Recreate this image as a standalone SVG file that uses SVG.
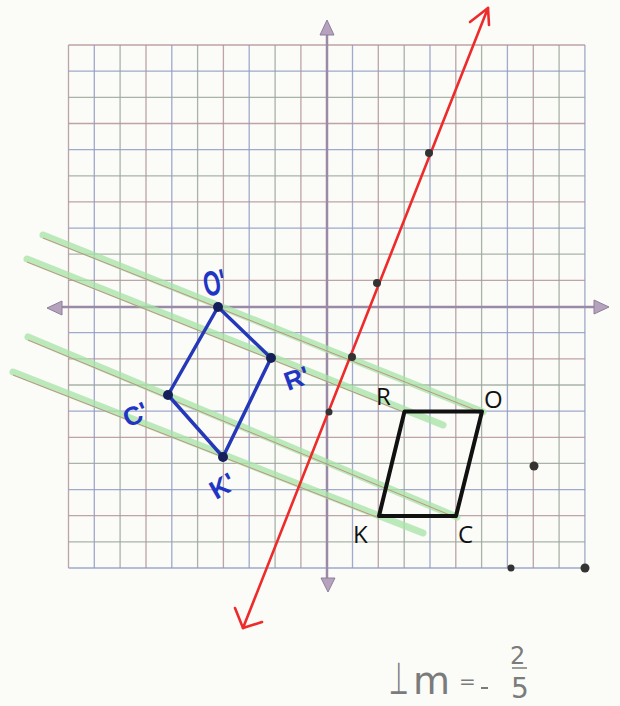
<svg xmlns="http://www.w3.org/2000/svg" width="620" height="706" viewBox="0 0 620 706">
<style>
.gr{stroke:#b39498;stroke-width:1.3;fill:none;opacity:0.85}
.gb{stroke:#8f9bc4;stroke-width:1.3;fill:none;opacity:0.85}
.gg{stroke:#9aa79a;stroke-width:1.3;fill:none;opacity:0.85}
.axis{stroke:#9a8aa6;stroke-width:2.5;fill:none}
.ahead{fill:#b5a3bd;stroke:#8f7f9c;stroke-width:1}
.hl{stroke:#a6e3a6;stroke-width:7;stroke-linecap:round;opacity:0.75;fill:none}
.ul{stroke:#c0706a;stroke-width:1;opacity:0.7;fill:none}
.red{stroke:#ee2b2b;stroke-width:2.6;fill:none;stroke-linecap:round;stroke-linejoin:round}
.dot{fill:#333}
.blk{stroke:#111;stroke-width:4;fill:none;stroke-linejoin:round}
.blu{stroke:#2538b8;stroke-width:3.5;fill:none;stroke-linejoin:round}
.bdot{fill:#15205a}
.lbl{font-family:"Open Sans","Liberation Sans",sans-serif;font-size:24px;fill:#111}
.blbl{font-family:"Liberation Sans",sans-serif;font-weight:bold;font-size:26px;fill:#1f35c4}
.note{font-family:"DejaVu Sans","Liberation Sans",sans-serif;fill:#7b7b7b}
</style>
<rect width="620" height="706" fill="#fbfbf8"/>
<g id="grid">
<path class="gr" d="M68.5 45V568M146 45V568M223.4 45V568M300.9 45V568M378.3 45V568M455.8 45V568M533.3 45V568"/>
<path class="gb" d="M94.3 45V568M171.8 45V568M249.2 45V568M352.5 45V568M430 45V568M507.4 45V568M584.9 45V568"/>
<path class="gg" d="M120.1 45V568M197.6 45V568M275.1 45V568M404.2 45V568M481.6 45V568M559.1 45V568"/>
<path class="gr" d="M68.5 45H585M68.5 123.5H585M68.5 201.9H585M68.5 280.4H585M68.5 358.8H585M68.5 437.3H585M68.5 515.7H585"/>
<path class="gb" d="M68.5 71.2H585M68.5 149.6H585M68.5 228.1H585M68.5 332.7H585M68.5 411.1H585M68.5 489.6H585M68.5 568H585"/>
<path class="gg" d="M68.5 97.3H585M68.5 175.8H585M68.5 254.2H585M68.5 385H585M68.5 463.4H585M68.5 541.9H585"/>
</g>
<g id="axes">
<path class="axis" d="M327 34V580M58 307H596"/>
<path class="ahead" d="M327 20L320 35L334 35Z"/>
<path class="ahead" d="M328 592L321 578L335 578Z"/>
<path class="ahead" d="M609 307L594 300L594 314Z"/>
<path class="ahead" d="M47 308L62 301L62 315Z"/>
</g>
<g id="connectors">
<path class="hl" d="M43 235L483 412"/>
<path class="hl" d="M27 259L443 425"/>
<path class="hl" d="M28 337L457 517"/>
<path class="hl" d="M13 372L423 533"/>
<path class="ul" d="M43 238L483 413"/>
<path class="ul" d="M27 262L406 413"/>
<path class="ul" d="M28 340L457 518"/>
<path class="ul" d="M13 375L379 518"/>
</g>
<g id="mirror-line">
<path class="red" d="M488 8L243 628"/>
<path class="red" d="M470 22L488 8L489 25"/>
<path class="red" d="M235 608L243 628L262 622"/>
<circle class="dot" cx="429" cy="153" r="4"/>
<circle class="dot" cx="377" cy="283" r="4"/>
<circle class="dot" cx="352" cy="357" r="4"/>
<circle class="dot" cx="329" cy="412" r="3.5"/>
</g>
<g id="stray-points">
<circle class="dot" cx="534" cy="466" r="4.5"/>
<circle class="dot" cx="511" cy="568" r="3.5"/>
<circle class="dot" cx="585" cy="568" r="4.5"/>
</g>
<g id="rock">
<path class="blk" d="M404.5 411.5L482 411.5L456 516L379 516Z"/>
<text class="lbl" x="376" y="405">R</text>
<text class="lbl" x="484" y="408">O</text>
<text class="lbl" x="353" y="543">K</text>
<text class="lbl" x="458" y="543">C</text>
</g>
<g id="image">
<path class="blu" d="M218 307L271 358L223 457L168 395Z"/>
<circle class="bdot" cx="218" cy="307" r="5"/>
<circle class="bdot" cx="271" cy="358" r="5"/>
<circle class="bdot" cx="223" cy="457" r="5"/>
<circle class="bdot" cx="168" cy="395" r="5"/>
<text class="blbl" transform="translate(206,297) rotate(-12) scale(0.85,1.35)">O'</text>
<text class="blbl" transform="translate(288,391) rotate(-20)">R'</text>
<text class="blbl" transform="translate(128,428) rotate(-25)">C'</text>
<text class="blbl" transform="translate(216,500) rotate(-30)">K'</text>
</g>
<g id="note">
<text class="note" transform="translate(389,694) scale(0.8,1.6)" font-size="28">⊥</text>
<text class="note" x="413" y="694" font-size="38">m</text>
<text class="note" x="459" y="688" font-size="20">=</text>
<path d="M481 688H488" stroke="#7b7b7b" stroke-width="2"/>
<text class="note" x="510" y="664" font-size="24">2</text>
<path d="M512 668H527" stroke="#7b7b7b" stroke-width="1.5"/>
<text class="note" x="511" y="698" font-size="28">5</text>
</g>
</svg>
